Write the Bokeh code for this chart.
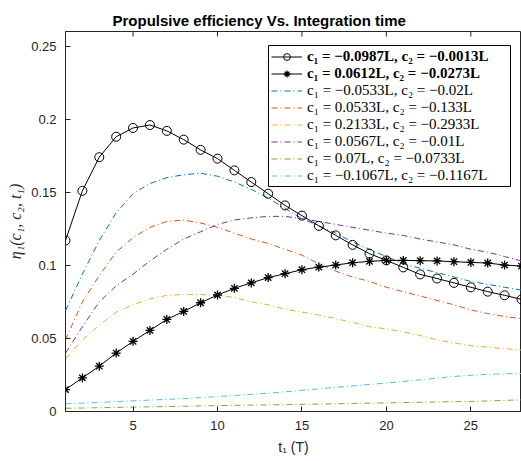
from bokeh.plotting import figure
from bokeh.models import Range1d, LinearAxis, FixedTicker, Legend, LegendItem, BoxAnnotation
from bokeh.core.properties import value
from bokeh.embed import file_html
from bokeh.resources import INLINE
import math

# ---------------- data ----------------
t = list(range(1, 29))

eta_a = [0.117, 0.151, 0.174, 0.188, 0.194, 0.196, 0.192, 0.186, 0.179, 0.173,
         0.165, 0.157, 0.149, 0.141, 0.134, 0.127, 0.1205, 0.114, 0.108, 0.1034,
         0.0986, 0.0938, 0.091, 0.088, 0.085, 0.082, 0.0795, 0.0767]
eta_b = [0.015, 0.023, 0.031, 0.040, 0.048, 0.0555, 0.063, 0.0685, 0.0744, 0.0797,
         0.0843, 0.088, 0.0916, 0.0943, 0.097, 0.0988, 0.1002, 0.1018, 0.1027, 0.1034,
         0.1034, 0.1032, 0.103, 0.1025, 0.102, 0.1016, 0.1002, 0.0995]
eta_blue = [0.069, 0.094, 0.117, 0.136, 0.149, 0.156, 0.160, 0.162, 0.163, 0.161,
            0.157, 0.152, 0.146, 0.139, 0.132, 0.127, 0.122, 0.116, 0.111, 0.106,
            0.101, 0.098, 0.095, 0.092, 0.089, 0.087, 0.085, 0.083]
eta_orange = [0.049, 0.075, 0.093, 0.109, 0.119, 0.126, 0.130, 0.131, 0.129, 0.126,
              0.122, 0.118, 0.115, 0.111, 0.107, 0.101, 0.096, 0.092, 0.089, 0.085,
              0.082, 0.079, 0.076, 0.073, 0.0695, 0.067, 0.065, 0.0635]
eta_yellow = [0.036, 0.049, 0.059, 0.068, 0.073, 0.077, 0.0795, 0.080, 0.080, 0.0795,
              0.078, 0.075, 0.073, 0.070, 0.068, 0.066, 0.0635, 0.061, 0.058, 0.0565,
              0.0545, 0.052, 0.049, 0.047, 0.045, 0.044, 0.043, 0.042]
eta_purple = [0.040, 0.058, 0.075, 0.086, 0.094, 0.103, 0.111, 0.118, 0.123, 0.128,
              0.131, 0.1325, 0.1335, 0.1335, 0.132, 0.130, 0.128, 0.126, 0.124, 0.122,
              0.1205, 0.118, 0.116, 0.114, 0.111, 0.109, 0.106, 0.103]
eta_green = [0.0022, 0.0024, 0.0026, 0.0028, 0.0030, 0.0032, 0.0034, 0.0036, 0.0038, 0.0040,
             0.0042, 0.0044, 0.0045, 0.0047, 0.0049, 0.0051, 0.0053, 0.0055, 0.0057, 0.0059,
             0.0061, 0.0063, 0.0065, 0.0067, 0.0069, 0.0072, 0.0076, 0.0080]
eta_lightblue = [0.0053, 0.0057, 0.0062, 0.0068, 0.0073, 0.0078, 0.0083, 0.0088, 0.0095, 0.0102,
                 0.0110, 0.0117, 0.0125, 0.0135, 0.0145, 0.0155, 0.0165, 0.0175, 0.0185, 0.0195,
                 0.0205, 0.0217, 0.0228, 0.0240, 0.0248, 0.0254, 0.0258, 0.0260]

bold_labels = ["c\u2081 = \u22120.0987L, c\u2082 = \u22120.0013L",
               "c\u2081 = 0.0612L, c\u2082 = \u22120.0273L"]
dash_labels = ["c\u2081 = \u22120.0533L, c\u2082 = \u22120.02L",
               "c\u2081 = 0.0533L, c\u2082 = \u22120.133L",
               "c\u2081 = 0.2133L, c\u2082 = \u22120.2933L",
               "c\u2081 = 0.0567L, c\u2082 = \u22120.01L",
               "c\u2081 = 0.07L, c\u2082 = \u22120.0733L",
               "c\u2081 = \u22120.1067L, c\u2082 = \u22120.1167L"]
dash_series = [eta_blue, eta_orange, eta_yellow, eta_purple, eta_green, eta_lightblue]
dash_colors = ["#0072BD", "#D95319", "#EDB120", "#7E2F8E", "#77AC30", "#4DBEEE"]

x_min, x_max = 1, 28
y_min, y_max = 0, 0.26
x_ticks = [5, 10, 15, 20, 25]
y_ticks = [0, 0.05, 0.1, 0.15, 0.2, 0.25]
y_tick_labels = ["0", "0.05", "0.1", "0.15", "0.2", "0.25"]

title_text = "Propulsive efficiency Vs. Integration time"
x_label = "t\u2081 (T)"
y_label = "\u03b7\u2081(c\u2081, c\u2082, t\u2081)"

# ---------------- figure ----------------
AX = "#262626"
p = figure(width=521, height=461, output_backend="svg", toolbar_location=None,
           x_range=Range1d(x_min, x_max), y_range=Range1d(y_min, y_max),
           min_border_left=65, min_border_right=0, min_border_top=31, min_border_bottom=50,
           x_axis_location=None, y_axis_location=None)
p.outline_line_color = AX
p.outline_line_width = 1
p.xgrid.visible = False
p.ygrid.visible = False
p.background_fill_color = "white"
p.border_fill_color = "white"

p.title.text = title_text
p.title.text_font = "Liberation Sans"
p.title.text_font_size = "15px"
p.title.text_font_style = "bold"
p.title.text_color = "black"
p.title.align = "left"
p.title.offset = 47
p.title.standoff = 6

def style_axis(ax):
    ax.axis_line_color = AX
    ax.axis_line_width = 1
    ax.major_tick_line_color = AX
    ax.major_tick_in = 5
    ax.major_tick_out = 0
    ax.minor_tick_line_color = None
    ax.major_label_text_font = "Liberation Sans"
    ax.major_label_text_font_size = "13px"
    ax.major_label_text_color = AX

xb = LinearAxis(ticker=FixedTicker(ticks=x_ticks))
style_axis(xb)
xb.major_label_standoff = 9
xb.axis_label = x_label
xb.axis_label_text_font = "Liberation Sans"
xb.axis_label_text_font_size = "14px"
xb.axis_label_text_font_style = "normal"
xb.axis_label_text_color = AX
xb.axis_label_standoff = 6
p.add_layout(xb, "below")

yl = LinearAxis(ticker=FixedTicker(ticks=y_ticks))
style_axis(yl)
yl.major_label_overrides = {v: s for v, s in zip(y_ticks, y_tick_labels)}
yl.major_label_standoff = 9
yl.axis_label = y_label
yl.axis_label_text_font = "Liberation Serif"
yl.axis_label_text_font_size = "16px"
yl.axis_label_text_font_style = "italic"
yl.axis_label_text_color = AX
yl.axis_label_standoff = 4
p.add_layout(yl, "left")

# top-edge ticks (box on): vertical dashes centred on the top border, clipped by the frame
p.scatter(x_ticks, [y_max] * len(x_ticks), marker="dash", angle=math.pi / 2,
          size=10, line_color=AX, line_width=1)

# ---------------- glyphs ----------------
dash_renderers = []
for ys, c in zip(dash_series, dash_colors):
    r = p.line(t, ys, line_color=c, line_width=1, line_dash="6 3 1 3")
    dash_renderers.append(r)

la = p.line(t, eta_a, line_color="black", line_width=1)
sa = p.scatter(t, eta_a, marker="circle", size=9, fill_color=None,
               line_color="black", line_width=1)
lb = p.line(t, eta_b, line_color="black", line_width=1)
sb = p.scatter(t, eta_b, marker="asterisk", size=9, line_color="black", line_width=1.3)

# ---------------- legend ----------------
box = BoxAnnotation(left=203, right=445, bottom=225, top=366,
                    left_units="screen", right_units="screen",
                    bottom_units="screen", top_units="screen",
                    fill_color="white", fill_alpha=1,
                    line_color="black", line_width=1, line_alpha=1)
p.add_layout(box)

def style_legend(lg):
    lg.label_text_font = "Liberation Serif"
    lg.label_text_font_size = "15px"
    lg.label_text_color = "black"
    lg.glyph_width = 31
    lg.glyph_height = 17
    lg.label_height = 17
    lg.label_standoff = 5
    lg.spacing = 0
    lg.margin = 0
    lg.padding = 0
    lg.border_line_color = None
    lg.background_fill_alpha = 0

bold_items = [LegendItem(label=value(bold_labels[0]), renderers=[la, sa]),
              LegendItem(label=value(bold_labels[1]), renderers=[lb, sb])]
leg_bold = Legend(items=bold_items, location=(206, 329))
style_legend(leg_bold)
leg_bold.label_text_font_style = "bold"
p.add_layout(leg_bold)

dash_items = [LegendItem(label=value(lbl), renderers=[r])
              for lbl, r in zip(dash_labels, dash_renderers)]
leg_dash = Legend(items=dash_items, location=(206, 227))
style_legend(leg_dash)
p.add_layout(leg_dash)

open("out.html", "w").write(file_html(p, INLINE))
